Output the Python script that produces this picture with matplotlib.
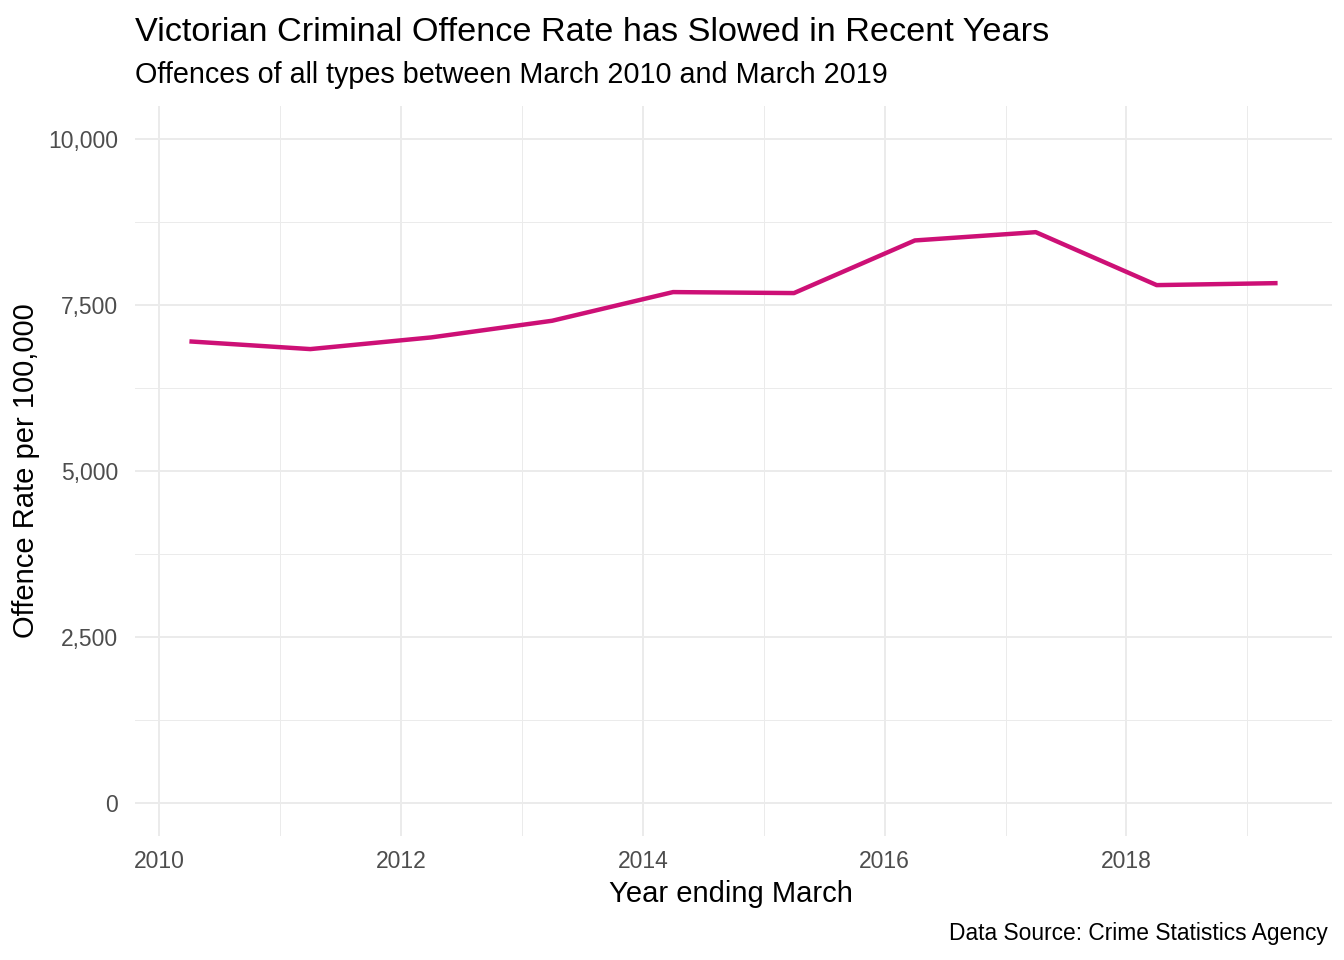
import numpy as np
import matplotlib
matplotlib.use("Agg")
import matplotlib.pyplot as plt
from matplotlib.ticker import FuncFormatter, MultipleLocator

plt.rcParams["font.family"] = ["Liberation Sans", "DejaVu Sans"]

# year ending March (decimal years) and offence rate per 100,000
years = [2010.25, 2011.25, 2012.25, 2013.25, 2014.25, 2015.25, 2016.25, 2017.25, 2018.25, 2019.25]
rate = [6953, 6837, 7013, 7264, 7696, 7681, 8474, 8599, 7801, 7831]

W, H = 1344, 960
fig = plt.figure(figsize=(W / 100, H / 100), dpi=100)
ax = fig.add_axes([135 / W, 1 - 836 / H, (1332 - 135) / W, (836 - 106) / H])

ax.plot(years, rate, color="#CD1076", lw=3.2, solid_capstyle="butt", zorder=3)

ax.set_xlim(2009.8, 2019.7)
ax.set_ylim(-500, 10500)
ax.xaxis.set_major_locator(MultipleLocator(2))
ax.xaxis.set_minor_locator(MultipleLocator(1))
ax.yaxis.set_major_locator(MultipleLocator(2500))
ax.yaxis.set_minor_locator(MultipleLocator(1250))
ax.yaxis.set_major_formatter(FuncFormatter(lambda v, p: f"{v:,.0f}"))
ax.set_xticks(np.arange(2010, 2020, 2))
ax.set_yticks(np.arange(0, 10001, 2500))

ax.grid(which="major", color="#EBEBEB", lw=1.4)
ax.grid(which="minor", color="#EBEBEB", lw=0.7)
ax.set_axisbelow(True)
for s in ax.spines.values():
    s.set_visible(False)
ax.tick_params(which="both", length=0)
ax.tick_params(axis="both", labelsize=16.5, labelcolor="#4D4D4D")
ax.tick_params(axis="y", pad=12)
ax.tick_params(axis="x", pad=9.8)

# axis titles placed in figure pixels
fig.text(731 / W, 1 - 902 / H, "Year ending March", fontsize=21, ha="center", va="baseline")
fig.text(26 / W, 1 - 471 / H, "Offence Rate per 100,000", fontsize=21, rotation=90,
         ha="center", va="center")

fig.text(135 / W, 1 - 40.7 / H, "Victorian Criminal Offence Rate has Slowed in Recent Years",
         fontsize=24.7, ha="left", va="baseline")
fig.text(135 / W, 1 - 83.3 / H, "Offences of all types between March 2010 and March 2019",
         fontsize=20.7, ha="left", va="baseline")
fig.text(1328 / W, 1 - 940 / H, "Data Source: Crime Statistics Agency",
         fontsize=16.4, ha="right", va="baseline")

fig.savefig("out.png", dpi=100, facecolor="white")
